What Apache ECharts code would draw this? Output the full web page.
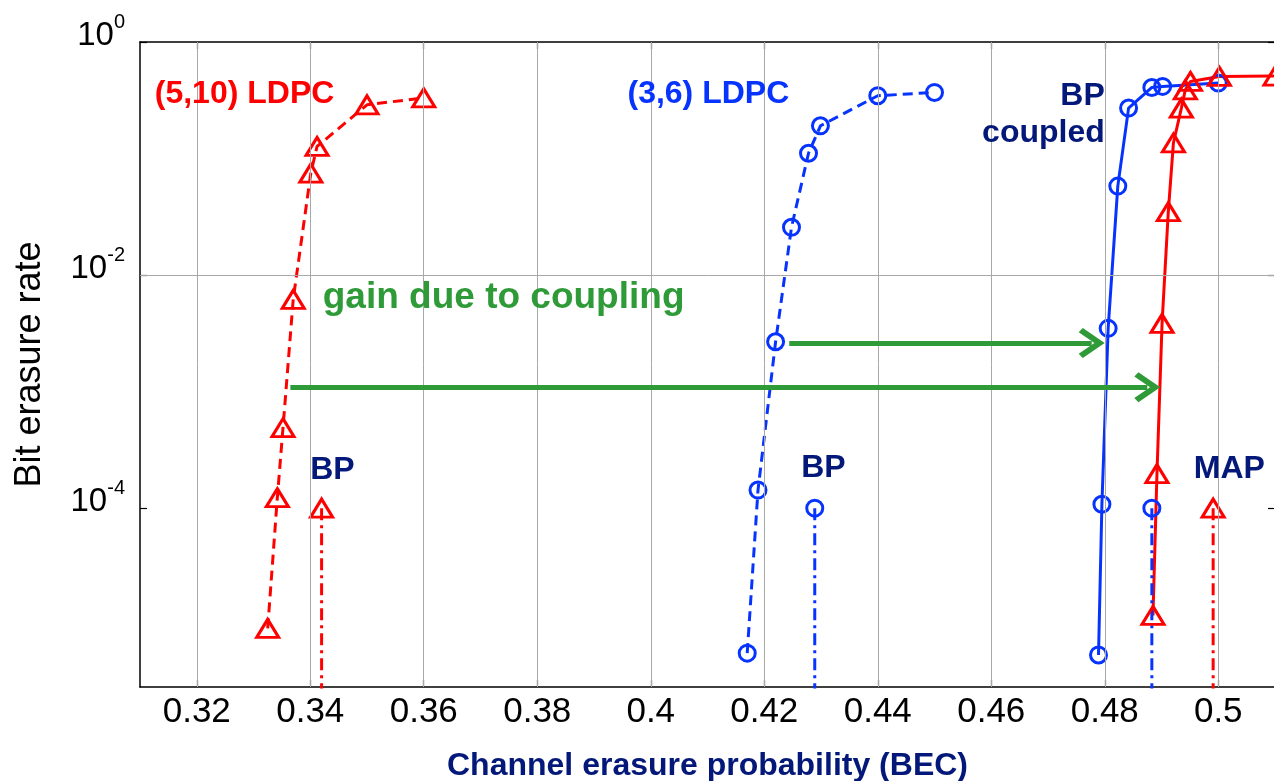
<!DOCTYPE html>
<html><head><meta charset="utf-8">
<script src="https://cdn.jsdelivr.net/npm/echarts@6/dist/echarts.min.js"></script>
<style>html,body{margin:0;padding:0;background:#fff}#c{width:1274px;height:781px}</style>
</head><body><div id="c"></div>
<script>
// ---- axis ranges & ticks ----
const xMin = 0.31, xMax = 0.51;
const yMin = 2.92e-6, yMax = 1;
const xTickValues = [0.32, 0.34, 0.36, 0.38, 0.4, 0.42, 0.44, 0.46, 0.48, 0.5];
const yTickValues = [1e-4, 1e-2, 1];

// ---- (5,10) LDPC, uncoupled BP (red dashed, triangles) ----
const ldpc510X = [0.3325, 0.3342, 0.3352, 0.3370, 0.3401, 0.3412, 0.350, 0.360];
const ldpc510Y = [9.3e-6, 1.23e-4, 4.9e-4, 6.2e-3, 0.075, 0.127, 0.289, 0.332];

// ---- (3,6) LDPC, uncoupled BP (blue dashed, circles) ----
const ldpc36X = [0.4170, 0.4189, 0.4220, 0.4248, 0.4278, 0.4299, 0.440, 0.450];
const ldpc36Y = [5.7e-6, 1.43e-4, 2.68e-3, 0.0257, 0.111, 0.191, 0.346, 0.369];

// ---- (3,6) coupled, BP (blue solid, circles) ----
const coupled36X = [0.4789, 0.4795, 0.4806, 0.4823, 0.4842, 0.4883, 0.4902, 0.500];
const coupled36Y = [5.5e-6, 1.08e-4, 3.49e-3, 0.058, 0.271, 0.407, 0.416, 0.444];

// ---- (5,10) coupled, BP (red solid, triangles) ----
const coupled510X = [0.4885, 0.4892, 0.4901, 0.4912, 0.4921, 0.4935, 0.4942, 0.4951, 0.5002, 0.510];
const coupled510Y = [1.2e-5, 1.98e-4, 3.85e-3, 0.035, 0.136, 0.271, 0.389, 0.459, 0.506, 0.51];

// ---- thresholds (dash-dot verticals) ----
const thrBP510X = [0.342, 0.342],   thrBP510Y = [1e-4, 1e-7];
const thrBP36X  = [0.4289, 0.4289], thrBP36Y  = [1e-4, 1e-7];
const thrMAP36X = [0.4883, 0.4883], thrMAP36Y = [1e-4, 1e-7];
const thrMAP510X = [0.4991, 0.4991], thrMAP510Y = [1e-4, 1e-7];

// ---- gain arrows ----
const arrowStartX = [0.4244, 0.3365];
const arrowEndX   = [0.4777, 0.4875];
const arrowY      = [2.61e-3, 1.09e-3];

// ---- annotations ----
const annoText = ['(5,10) LDPC', '(3,6) LDPC', 'BP\ncoupled', 'gain due to coupling', 'BP', 'BP', 'MAP'];
const annoX = [0.3126, 0.3959, 0.4800, 0.3422, 0.3400, 0.4265, 0.4957];
const annoY = [0.36, 0.36, 0.239, 6.36e-3, 2.12e-4, 2.2e-4, 2.15e-4];

const RED = '#ff0000', BLUE = '#0733ff', NAVY = '#04187a', GREEN = '#2f9a38';
const FONT = '"Liberation Sans", Arial, Helvetica, sans-serif';

const zip = (xs, ys) => xs.map((x, i) => [x, ys[i]]);

function curve(xs, ys, color, dashed, symbol, size) {
  return {
    type: 'line', data: zip(xs, ys), z: 3,
    symbol: symbol, symbolSize: size, showSymbol: true,
    clip: true,
    lineStyle: { color: color, width: 3, type: dashed ? [10, 6] : 'solid' },
    itemStyle: { color: 'rgba(0,0,0,0)', borderColor: color, borderWidth: 3 },
    emphasis: { disabled: true }
  };
}
function threshold(xs, ys, color, symbol, size) {
  return {
    type: 'line', data: zip(xs, ys), z: 3,
    symbol: symbol, symbolSize: size, clip: true,
    lineStyle: { color: color, width: 3, type: [12, 5, 3, 5] },
    itemStyle: { color: 'rgba(0,0,0,0)', borderColor: color, borderWidth: 3 },
    emphasis: { disabled: true }
  };
}

const annoStyles = [
  { color: RED, size: 32, pos: 'right' },
  { color: BLUE, size: 32, pos: 'right' },
  { color: NAVY, size: 32, pos: 'left' },
  { color: GREEN, size: 37, pos: 'right' },
  { color: NAVY, size: 32, pos: 'right' },
  { color: NAVY, size: 32, pos: 'right' },
  { color: NAVY, size: 32, pos: 'right' }
];

const chevron = 'path://M50,0 L100,64 L86,76 L50,30 L14,76 L0,64 Z';
const TRI = [22, 18], CIR = 16;

const tickLabelY = v => '{b|10}{s|' + Math.round(Math.log10(v)) + '}';

const option = {
  animation: false,
  backgroundColor: '#fff',
  grid: { left: 140, top: 42, right: -1, bottom: 94, outerBoundsMode: 'none', containLabel: false },
  xAxis: [{
    type: 'value', min: xMin, max: xMax, position: 'bottom',
    name: 'Channel erasure probability (BEC)', nameLocation: 'middle', nameGap: 62,
    nameTextStyle: { color: NAVY, fontSize: 32, fontWeight: 'bold', fontFamily: FONT, lineHeight: 34 },
    axisLine: { show: true, onZero: false, lineStyle: { color: '#000', width: 1.5 } },
    axisTick: { show: true, inside: true, length: 7, customValues: xTickValues, lineStyle: { color: '#000', width: 1.2 } },
    axisLabel: { customValues: xTickValues, margin: 7, color: '#000', fontSize: 35, lineHeight: 36, fontFamily: FONT,
      formatter: v => String(+(+v).toFixed(2)) },
    splitLine: { show: false }
  }, {
    type: 'value', min: xMin, max: xMax, position: 'top',
    axisLine: { show: true, onZero: false, lineStyle: { color: '#000', width: 1.5 } },
    axisTick: { show: true, inside: true, length: 7, customValues: xTickValues, lineStyle: { color: '#000', width: 1.2 } },
    axisLabel: { show: false }, splitLine: { show: false }
  }],
  yAxis: [{
    type: 'log', min: yMin, max: yMax, position: 'left',
    name: 'Bit erasure rate', nameLocation: 'middle', nameGap: 91,
    nameTextStyle: { color: '#000', fontSize: 36, fontFamily: FONT, lineHeight: 38 },
    axisLine: { show: true, onZero: false, lineStyle: { color: '#000', width: 1.5 } },
    axisTick: { show: true, inside: true, length: 7, customValues: yTickValues, lineStyle: { color: '#000', width: 1.2 } },
    axisLabel: { customValues: yTickValues, margin: 15, formatter: tickLabelY, padding: [0, 0, 33, 0],
      rich: {
        b: { fontSize: 33, lineHeight: 33, padding: [10, 0, 0, 0], verticalAlign: 'top', color: '#000', fontFamily: FONT },
        s: { fontSize: 20, lineHeight: 22, padding: [3, 0, 0, 0], verticalAlign: 'top', color: '#000', fontFamily: FONT }
      } },
    splitLine: { show: false }
  }, {
    type: 'log', min: yMin, max: yMax, position: 'right',
    axisLine: { show: true, onZero: false, lineStyle: { color: '#000', width: 1.5 } },
    axisTick: { show: true, inside: true, length: 7, customValues: yTickValues, lineStyle: { color: '#000', width: 1.2 } },
    axisLabel: { show: false }, splitLine: { show: false }
  }],
  series: [
    // grid lines
    {
      type: 'line', data: [], z: 1, silent: true,
      markLine: {
        silent: true, symbol: ['none', 'none'], label: { show: false },
        lineStyle: { color: '#a8a8a8', width: 1, type: 'solid' },
        data: xTickValues.map(v => ({ xAxis: v })).concat(yTickValues.slice(0, 2).map(v => ({ yAxis: v })))
      }
    },
    curve(ldpc510X, ldpc510Y, RED, true, 'triangle', TRI),
    curve(ldpc36X, ldpc36Y, BLUE, true, 'circle', CIR),
    curve(coupled36X, coupled36Y, BLUE, false, 'circle', CIR),
    curve(coupled510X, coupled510Y, RED, false, 'triangle', TRI),
    threshold(thrBP510X, thrBP510Y, RED, 'triangle', TRI),
    threshold(thrBP36X, thrBP36Y, BLUE, 'circle', CIR),
    threshold(thrMAP36X, thrMAP36Y, BLUE, 'circle', CIR),
    threshold(thrMAP510X, thrMAP510Y, RED, 'triangle', TRI),
    // arrows
    {
      type: 'line', data: [], z: 4, silent: true,
      markLine: {
        silent: true, symbol: ['none', chevron], symbolSize: [30, 26], label: { show: false },
        lineStyle: { color: GREEN, width: 5, type: 'solid', opacity: 1 },
        itemStyle: { color: GREEN },
        data: arrowStartX.map((x, i) => [{ coord: [x, arrowY[i]] }, { coord: [arrowEndX[i], arrowY[i]] }])
      }
    },
    // annotations
    {
      type: 'scatter', z: 5, silent: true, symbolSize: 0,
      itemStyle: { color: 'rgba(0,0,0,0)', opacity: 1 },
      data: annoText.map((t, i) => ({
        value: [annoX[i], annoY[i]],
        label: {
          show: true, formatter: t, position: annoStyles[i].pos, distance: 0,
          align: annoStyles[i].pos === 'left' ? 'right' : 'left',
          color: annoStyles[i].color, fontSize: annoStyles[i].size, fontWeight: 'bold',
          fontFamily: FONT, lineHeight: 37, opacity: 1
        }
      }))
    }
  ]
};

const chart = echarts.init(document.getElementById('c'), null, { renderer: 'canvas' });
chart.setOption(option);
</script>
</body></html>
